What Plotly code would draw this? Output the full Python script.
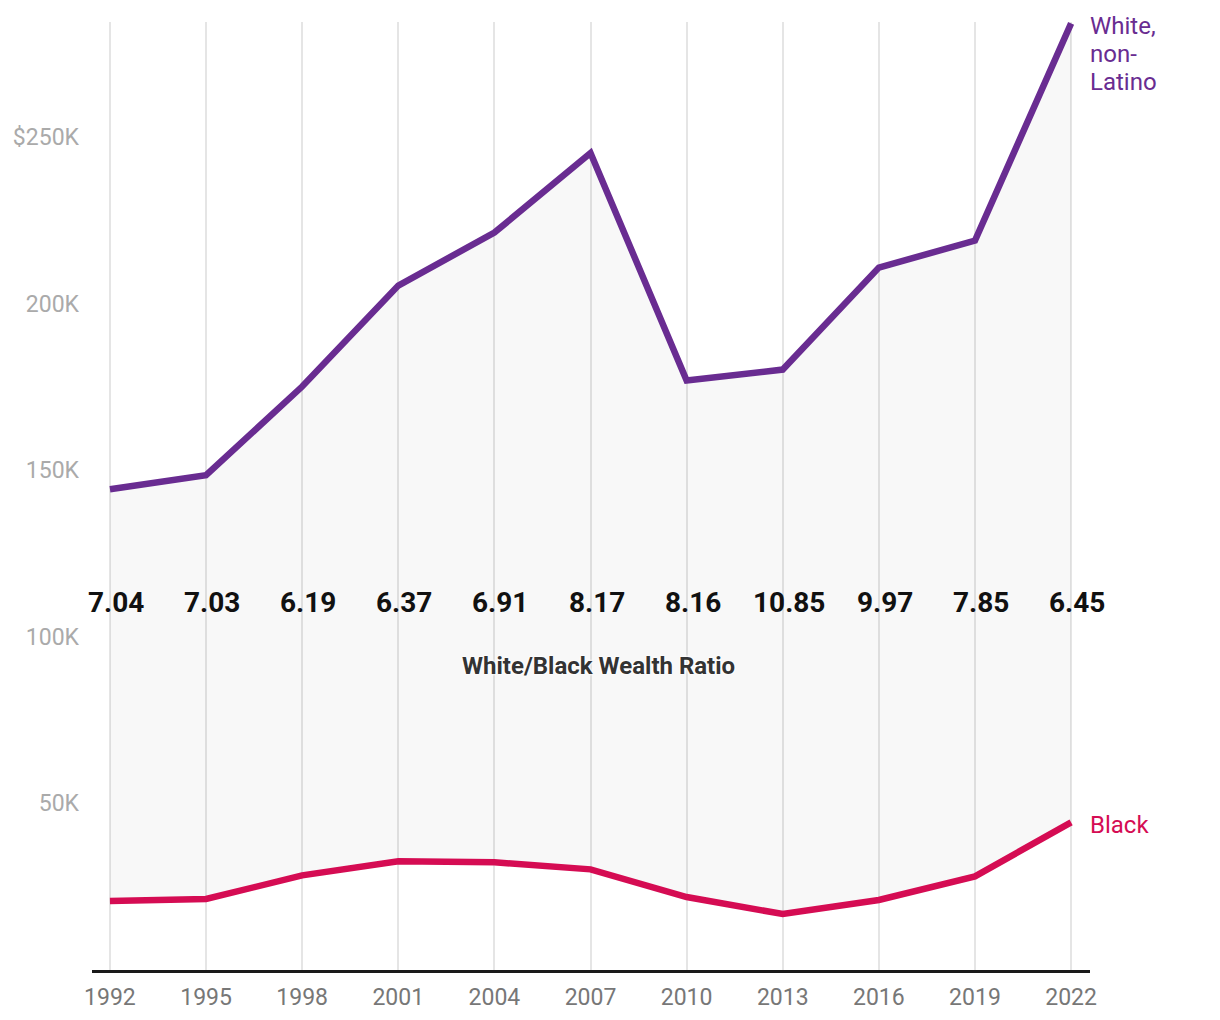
import plotly.graph_objects as go

years = [1992, 1995, 1998, 2001, 2004, 2007, 2010, 2013, 2016, 2019, 2022]
white = [144300, 148500, 175100, 205400, 221300, 245200, 176900, 180200, 210800, 218900, 284100]
black = [20700, 21300, 28400, 32600, 32300, 30200, 21900, 16800, 21000, 28100, 44300]
ratios = ["7.04", "7.03", "6.19", "6.37", "6.91", "8.17", "8.16", "10.85", "9.97", "7.85", "6.45"]
ytick_vals = [50000, 100000, 150000, 200000, 250000]
ytick_text = ["50K", "100K", "150K", "200K", "$250K"]
white_label = ["White,", "non-", "Latino"]

PURPLE = "#692c91"
PINK = "#d50c53"
FONT = "Roboto"

fig = go.Figure()
fig.add_trace(go.Scatter(x=years, y=black, mode="lines",
                         line=dict(color=PINK, width=6.5), hoverinfo="skip", showlegend=False))
fig.add_trace(go.Scatter(x=years, y=white, mode="lines", fill="tonexty",
                         fillcolor="rgba(0,0,0,0.028)",
                         line=dict(color=PURPLE, width=6.5), hoverinfo="skip", showlegend=False))

annotations = []
for yr, r in zip(years, ratios):
    annotations.append(dict(x=yr, y=110200, text=r, showarrow=False, xshift=6,
                            font=dict(family=FONT, size=28, color="#111111", weight="bold"),
                            xanchor="center", yanchor="middle"))
annotations.append(dict(x=2007.24, y=91300, text="White/Black Wealth Ratio", showarrow=False,
                        font=dict(family=FONT, size=24, color="#333333", weight="bold",
                                  shadow="0 0 3px white, 0 0 3px white, 0 0 3px white"),
                        xanchor="center", yanchor="middle"))
for i, line in enumerate(white_label):
    annotations.append(dict(x=2022, y=white[-1], text=line, showarrow=False,
                            xshift=17, yshift=-3 - 28 * i, align="left",
                            font=dict(family=FONT, size=24, color=PURPLE),
                            xanchor="left", yanchor="middle"))
annotations.append(dict(x=2022, y=black[-1], text="Black", showarrow=False,
                        xshift=17, yshift=-3, align="left",
                        font=dict(family=FONT, size=24, color=PINK),
                        xanchor="left", yanchor="middle"))

fig.update_layout(
    width=1220, height=1020,
    margin=dict(l=92, r=130, t=22, b=50),
    paper_bgcolor="white", plot_bgcolor="white",
    font=dict(family=FONT),
    annotations=annotations,
    xaxis=dict(range=[1991.44, 2022.59], tickmode="array", tickvals=years,
               ticktext=[str(y) for y in years],
               showgrid=True, gridcolor="#e5e5e5", gridwidth=2,
               showline=True, linecolor="#1a1a1a", linewidth=3,
               ticks="", ticklabelstandoff=4, automargin=False,
               tickfont=dict(family=FONT, size=23, color="#777777"),
               zeroline=False, fixedrange=True),
    yaxis=dict(range=[0, 284500], tickmode="array", tickvals=ytick_vals, ticktext=ytick_text,
               showgrid=False, zeroline=False, showline=False, ticks="",
               ticklabelstandoff=12, automargin=False,
               tickfont=dict(family=FONT, size=23, color="#aaaaaa"), fixedrange=True),
)

fig.write_html("out.html")
